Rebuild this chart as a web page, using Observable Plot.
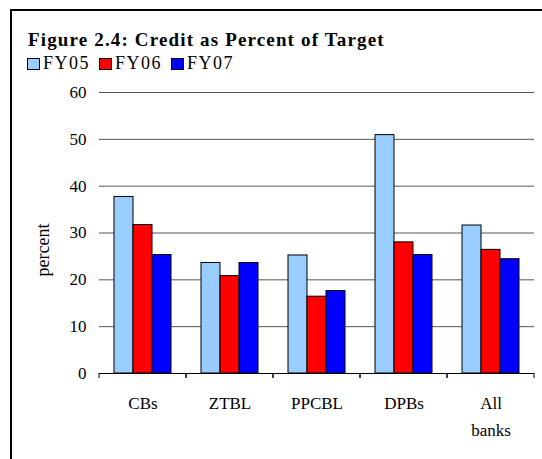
<!DOCTYPE html>
<html>
<head>
<meta charset="utf-8">
<script src="https://cdn.jsdelivr.net/npm/d3@7"></script>
<script src="https://cdn.jsdelivr.net/npm/@observablehq/plot@0.6"></script>
<style>
  html, body { margin: 0; padding: 0; background: #fff; }
  #wrap { position: relative; width: 542px; height: 459px; overflow: hidden; font-family: "Liberation Serif", "Times New Roman", serif; color: #000; }
  #border { position: absolute; left: 10px; top: 9px; width: 700px; height: 700px; border-top: 2px solid #000; border-left: 2px solid #000; }
  #head { position: relative; height: 70px; }
  #title { position: absolute; left: 28px; top: 33px; font-size: 19px; line-height: 14px; font-weight: bold; letter-spacing: 1.15px; white-space: nowrap; }
  #legend { position: absolute; left: 27px; top: 57px; display: flex; font-size: 18px; line-height: 12px; letter-spacing: 1.5px; white-space: nowrap; }
  .item { display: flex; align-items: center; width: 72px; }
  .swatch { width: 11px; height: 10px; border: 1px solid #000; margin-right: 3px; position: relative; top: 1px; }
  #chart svg { display: block; }
  #chart svg, #chart svg text { font-family: "Liberation Serif", "Times New Roman", serif !important; }
</style>
</head>
<body>
<div id="wrap">
  <div id="border"></div>
  <div id="head">
    <div id="title">Figure 2.4: Credit as Percent of Target</div>
    <div id="legend"></div>
  </div>
  <div id="chart"></div>
</div>
<script>
const categories = ["CBs", "ZTBL", "PPCBL", "DPBs", "All banks"];
const categoryLabels = ["CBs", "ZTBL", "PPCBL", "DPBs", "All\nbanks"];
const series = ["FY05", "FY06", "FY07"];
const colors = ["#99ccff", "#ff0000", "#0000ff"];
const fy05 = [37.7, 23.6, 25.2, 50.9, 31.6];
const fy06 = [31.7, 20.8, 16.4, 28.0, 26.4];
const fy07 = [25.3, 23.6, 17.6, 25.3, 24.4];
const yTicks = [0, 10, 20, 30, 40, 50, 60];
const gridTicks = [10, 20, 30, 40, 50, 60];
const yLabel = "percent";

const values = [fy05, fy06, fy07];
const data = [];
categories.forEach((c, i) => series.forEach((s, j) => data.push({category: c, series: s, value: values[j][i]})));

// legend
const legend = document.getElementById("legend");
series.forEach((s, j) => {
  const item = document.createElement("div");
  item.className = "item";
  const sw = document.createElement("div");
  sw.className = "swatch";
  sw.style.background = colors[j];
  const t = document.createElement("span");
  t.textContent = s;
  item.append(sw, t);
  legend.append(item);
});

const boundaryTicks = (index, scales, vals, dim) => {
  const g = d3.create("svg:g");
  const y0 = scales.y(0);
  for (const x of [dim.marginLeft, dim.width - dim.marginRight]) {
    g.append("line").attr("x1", x).attr("x2", x).attr("y1", y0).attr("y2", y0 + 5)
      .attr("stroke", "#000").attr("stroke-width", 1);
  }
  return g.node();
};

const chart = Plot.plot({
  width: 542,
  height: 389,
  marginLeft: 97,
  marginRight: 7,
  marginTop: 22,
  marginBottom: 86,
  style: {fontFamily: "'Liberation Serif', 'Times New Roman', serif", fontSize: "17px", color: "#000", background: "transparent", overflow: "visible"},
  fx: {domain: categories, padding: 0, axis: null},
  x: {domain: series, padding: 0, paddingOuter: 0.7, axis: null},
  y: {domain: [0, 60], axis: null},
  color: {domain: series, range: colors},
  marks: [
    Plot.ruleY(gridTicks, {y: d => d, stroke: "#555", strokeWidth: 1}),
    Plot.barY(data, {fx: "category", x: "series", y: "value", fill: "series", stroke: "#000", strokeWidth: 1, inset: 0}),
    Plot.ruleY([0], {stroke: "#000"}),
    Plot.axisY({ticks: yTicks, tickSize: 0, tickPadding: 13, label: null, line: true, fontSize: 17, style: "letter-spacing:2.5px"}),
    Plot.axisY({anchor: "right", ticks: [], label: null, line: "#808080"}),
    boundaryTicks,
    Plot.text(categories, {fx: d => d, text: (d, i) => categoryLabels[i], frameAnchor: "bottom", textAnchor: "middle", lineAnchor: "top", dy: 16, lineHeight: 1.6, fontSize: 17, style: "letter-spacing:1.5px"}),
    Plot.text([yLabel], {fx: () => categories[0], text: d => d, frameAnchor: "left", textAnchor: "middle", rotate: -90, dx: -56, dy: 17, fontSize: 18, style: "letter-spacing:3px"})
  ]
});
document.getElementById("chart").append(chart);
</script>
</body>
</html>
